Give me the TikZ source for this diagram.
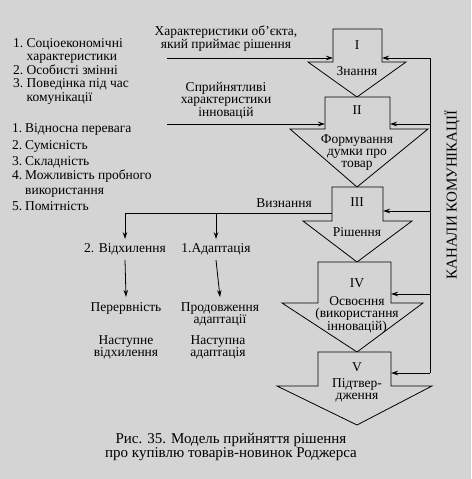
\documentclass[tikz,border=0pt]{standalone}
\usepackage{fontspec}
\setmainfont{Liberation Serif}
\usetikzlibrary{arrows.meta}
\definecolor{bg}{RGB}{212,212,212}
\newcommand\blockarr[8]{%
  \draw[blk] (#1,#3) -- (#2,#3) -- (#2,#4) -- (#6,#4) -- (#7,#8) -- (#5,#4) -- (#1,#4) -- cycle;}
\begin{document}
\begin{tikzpicture}[x=1pt,y=-1pt,
  every node/.style={inner sep=0pt, font=\fontsize{13.5}{12}\selectfont},
  txt/.style={align=center},
  lst/.style={anchor=base west},
  ln/.style={line width=0.8pt},
  arr/.style={ln, -{Stealth[length=7pt,width=4.5pt]}},
  blk/.style={line width=0.8pt, fill=bg, line join=miter}]
\useasboundingbox[fill=bg] (0,0) rectangle (471,479);
% block arrows
\blockarr{333}{382}{29}{62}{308}{406}{357}{97}
\blockarr{325}{390}{97}{129}{290}{428}{357}{187}
\blockarr{332}{383}{187}{221}{303}{412}{357}{262}
\blockarr{318}{391}{262}{303}{282}{423}{357}{352}
\blockarr{318}{391}{352}{386}{277}{432}{357}{425}
% block texts
\node (b1n) at (357,45) {I};
\node (b1t) at (357,71) {Знання};
\node (b2n) at (357,110) {II};
\node[txt] (b2t) at (357,153) {Формування\\думки про\\товар};
\node (b3n) at (357,202) {III};
\node (b3t) at (357,232) {Рішення};
\node (b4n) at (357,283) {IV};
\node[txt] (b4t) at (357,315) {Освоєння\\(використання\\інновацій)};
\node (b5n) at (357,367) {V};
\node[txt] (b5t) at (357,390) {Підтвер-\\дження};
% stem entry points
\coordinate (e1l) at (333,58);
\coordinate (e1r) at (382,58);
\coordinate (e2l) at (325,124);
\coordinate (e2r) at (390,124);
\coordinate (e3l) at (332,213);
\coordinate (e3r) at (383,211);
\coordinate (e4r) at (391,294);
\coordinate (e5r) at (391,373);
% communication channels
\coordinate (k1) at (430,58);
\coordinate (k2) at (430,124);
\coordinate (k3) at (430,211);
\coordinate (k4) at (430,294);
\coordinate (k5) at (430,373);
\draw[ln] (k1) -- (k5);
\draw[arr] (k1) -- (e1r);
\draw[arr] (k2) -- (e2r);
\draw[arr] (k3) -- (e3r);
\draw[arr] (k4) -- (e4r);
\draw[arr] (k5) -- (e5r);
\node[rotate=90, font=\fontsize{15}{15}\selectfont] (kan) at (452,195) {КАНАЛИ КОМУНІКАЦІЇ};
% inputs
\node[txt] (in1) at (226,39) {Характеристики об’єкта,\\який приймає рішення};
\coordinate (in1s) at (167,58);
\draw[arr] (in1s) -- (e1l);
\node[txt] (in2) at (226,101) {Сприйнятливі\\характеристики\\інновацій};
\coordinate (in2s) at (167,124);
\draw[arr] (in2s) -- (e2l);
% list 1
\node[lst] (a1) at (13,47.5) {\makebox[13.5pt][l]{1.}Соціоекономічні};
\node[lst] (a2) at (26.5,60.5) {характеристики};
\node[lst] (a3) at (13,74) {\makebox[13.5pt][l]{2.}Особисті змінні};
\node[lst] (a4) at (13,87.5) {\makebox[13.5pt][l]{3.}Поведінка під час};
\node[lst] (a5) at (26.5,101) {комунікації};
% list 2
\node[lst] (p1) at (12,132) {\makebox[13pt][l]{1.}Відносна перевага};
\node[lst] (p2) at (12,149) {\makebox[13pt][l]{2.}Сумісність};
\node[lst] (p3) at (12,165) {\makebox[13pt][l]{3.}Складність};
\node[lst] (p4) at (12,179) {\makebox[13pt][l]{4.}Можливість пробного};
\node[lst] (p5) at (25,194) {використання};
\node[lst] (p6) at (12,210) {\makebox[13pt][l]{5.}Помітність};
% recognition branch
\node (viz) at (284,203) {Визнання};
\node (rej) at (125,249) {2. Відхилення};
\node (adp) at (216,249) {1.Адаптація};
\coordinate (jl) at (125,213);
\coordinate (jm) at (216,213);
\draw[ln] (e3l) -- (jl);
\draw[arr] (jl) -- ([yshift=4pt]rej.north);
\draw[arr] (jm) -- ([yshift=4pt]adp.north);
\node (per) at (126,308) {Перервність};
\node[txt] (prd) at (220,314) {Продовження\\адаптації};
\draw[arr] ([yshift=-5pt]rej.south) -- ([yshift=5pt]per.north);
\draw[arr] ([yshift=-5pt]adp.south) -- ([yshift=5pt]prd.north);
\node[txt] (nv) at (126,347) {Наступне\\відхилення};
\node[txt] (na) at (218,347) {Наступна\\адаптація};
% caption
\node[txt, font=\fontsize{15}{12.5}\selectfont] (cap) at (231,447) {Рис. 35. Модель прийняття рішення\\про купівлю товарів-новинок Роджерса};
\end{tikzpicture}
\end{document}
